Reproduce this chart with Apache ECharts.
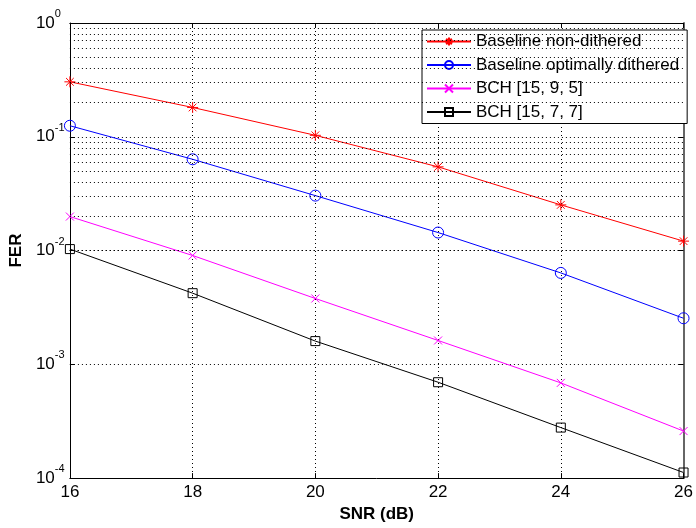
<!DOCTYPE html>
<html>
<head>
<meta charset="utf-8">
<script src="https://cdn.jsdelivr.net/npm/echarts@6/dist/echarts.min.js"></script>
<style>
html,body{margin:0;padding:0;background:#fff;}
#c{width:696px;height:528px;}
</style>
</head>
<body>
<div id="c"></div>
<script>
var snr = [16, 18, 20, 22, 24, 26];
var baselineNonDithered = [0.304, 0.181, 0.103, 0.0544, 0.0252, 0.0121];
var baselineOptDithered = [0.125, 0.0634, 0.0304, 0.0144, 0.00636, 0.00254];
var bch1595 = [0.0199, 0.00905, 0.00379, 0.00162, 0.000687, 0.000259];
var bch1577 = [0.0103, 0.00422, 0.0016, 0.000696, 0.000278, 0.000112];
var seriesNames = ['Baseline non-dithered', 'Baseline optimally dithered', 'BCH [15, 9, 5]', 'BCH [15, 7, 7]'];
var minorGrid = [];
[1e-4, 1e-3, 1e-2, 1e-1].forEach(function (d) {
  for (var k = 2; k <= 9; k++) minorGrid.push(+(k * d).toPrecision(3));
});

var FONT = '"Liberation Sans", Arial, Helvetica, sans-serif';
function pairs(ys) { return snr.map(function (x, i) { return [x, ys[i]]; }); }

var dotted = { color: '#000', width: 1, type: [1, 3] };
var asterisk = 'path://M0,5L10,5M5,0L5,10M1.5,1.5L8.5,8.5M8.5,1.5L1.5,8.5';
var cross = 'path://M0,0L10,10M10,0L0,10';

function mk(name, data, color, symbol, size, fill) {
  return {
    name: name, type: 'line', data: pairs(data), clip: false,
    symbol: symbol, symbolSize: size, showSymbol: true,
    lineStyle: { color: color, width: 1 },
    itemStyle: { color: fill, borderColor: color, borderWidth: 1 },
    emphasis: { disabled: true }, animation: false, z: 3
  };
}

var chart = echarts.init(document.getElementById('c'), null, { renderer: 'canvas' });
chart.setOption({
  animation: false,
  backgroundColor: '#fff',
  textStyle: { fontFamily: FONT },
  grid: { left: 67, right: 9, top: 23, bottom: 43, containLabel: false },
  legend: {
    data: seriesNames, orient: 'vertical', left: 422, top: 30,
    backgroundColor: '#fff', borderColor: '#000', borderWidth: 1, borderRadius: 0,
    padding: [3, 8, 3, 4], itemWidth: 44, itemHeight: 10, itemGap: 6.5,
    textStyle: { fontSize: 17, color: '#000', fontFamily: FONT, lineHeight: 16 },
    selectedMode: false
  },
  xAxis: [{
    type: 'value', min: 16, max: 26, interval: 2, position: 'bottom',
    axisLine: { show: true, onZero: false, lineStyle: { color: '#000', width: 1 } },
    axisTick: { show: true, inside: true, length: 5, lineStyle: { color: '#000' } },
    axisLabel: { fontSize: 17, color: '#000', margin: 6, fontFamily: FONT },
    splitLine: { show: true, lineStyle: dotted },
    name: 'SNR (dB)', nameLocation: 'middle', nameGap: 26,
    nameTextStyle: { fontSize: 17, fontWeight: 'bold', color: '#000', fontFamily: FONT }
  }, {
    type: 'value', min: 16, max: 26, interval: 2, position: 'top',
    axisLine: { show: true, onZero: false, lineStyle: { color: '#000', width: 1 } },
    axisTick: { show: true, inside: true, length: 5, lineStyle: { color: '#000' } },
    axisLabel: { show: false }, splitLine: { show: false }
  }],
  yAxis: [{
    type: 'log', logBase: 10, min: 1e-4, max: 1, position: 'left',
    axisLine: { show: true, onZero: false, lineStyle: { color: '#000', width: 1 } },
    axisTick: { show: true, inside: true, length: 5, lineStyle: { color: '#000' } },
    axisLabel: {
      margin: 34, align: 'left', color: '#000', fontFamily: FONT,
      formatter: function (v) {
        var e = Math.round(Math.log10(v));
        return '{b|10}{s|' + e + '}';
      },
      rich: {
        b: { fontSize: 17, color: '#000', fontFamily: FONT },
        s: { fontSize: 11, color: '#000', fontFamily: FONT, padding: [0, 0, 18, 0] }
      }
    },
    splitLine: { show: true, lineStyle: dotted },
    name: 'FER', nameLocation: 'middle', nameGap: 40, nameRotate: 90,
    nameTextStyle: { fontSize: 17, fontWeight: 'bold', color: '#000', fontFamily: FONT }
  }, {
    type: 'log', logBase: 10, min: 1e-4, max: 1, position: 'right',
    axisLine: { show: true, onZero: false, lineStyle: { color: '#666', width: 2 } },
    axisTick: { show: true, inside: true, length: 5, lineStyle: { color: '#000' } },
    axisLabel: { show: false }, splitLine: { show: false }
  }],
  series: [
    {
      name: 'grid', type: 'line', data: [], silent: true, z: 1,
      markLine: {
        silent: true, symbol: 'none', animation: false,
        label: { show: false },
        lineStyle: dotted,
        emphasis: { disabled: true },
        data: minorGrid.map(function (v) { return { yAxis: v }; })
      }
    },
    mk(seriesNames[0], baselineNonDithered, '#ff0000', asterisk, 11, '#ff0000'),
    mk(seriesNames[1], baselineOptDithered, '#0000ff', 'circle', 11, 'rgba(255,255,255,0)'),
    mk(seriesNames[2], bch1595, '#ff00ff', cross, 8, '#ff00ff'),
    mk(seriesNames[3], bch1577, '#000000', 'rect', 9, 'rgba(255,255,255,0)')
  ]
});
</script>
</body>
</html>
